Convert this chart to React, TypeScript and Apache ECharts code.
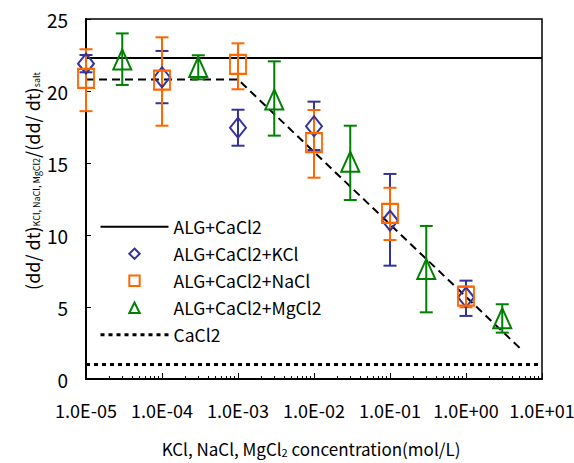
import React, { useEffect, useRef } from 'react';
import * as echarts from 'echarts';

const FONT = '"Noto Sans CJK JP", "Noto Sans", sans-serif';

// Axis ticks
const decadeTicks = [1e-5, 1e-4, 1e-3, 1e-2, 1e-1, 1e0, 1e1];
const xTickLabels = ['1.0E-05', '1.0E-04', '1.0E-03', '1.0E-02', '1.0E-01', '1.0E+00', '1.0E+01'];
const minorMultipliers = [2, 3, 4, 5, 6, 7, 8, 9];

// ALG+CaCl2 + KCl
const kclX = [1e-5, 1e-4, 1e-3, 1e-2, 1e-1, 1];
const kclY = [21.9, 20.95, 17.45, 17.55, 11.0, 5.67];
const kclLow = [21.3, 19.15, 16.2, 15.9, 7.87, 4.38];
const kclHigh = [22.5, 22.78, 18.7, 19.26, 14.24, 6.83];

// ALG+CaCl2 + NaCl
const naclX = [1e-5, 1e-4, 1e-3, 1e-2, 1e-1, 1];
const naclY = [20.88, 20.76, 21.85, 16.41, 11.5, 5.76];
const naclLow = [18.6, 17.59, 20.12, 13.98, 9.65, 4.98];
const naclHigh = [22.9, 23.73, 23.31, 18.68, 13.28, 6.41];

// ALG+CaCl2 + MgCl2
const mgX = [3e-5, 3e-4, 3e-3, 3e-2, 3e-1, 3];
const mgY = [22.19, 21.67, 19.41, 15.09, 7.64, 4.22];
const mgLow = [20.42, 20.81, 16.9, 12.43, 4.63, 3.22];
const mgHigh = [24.0, 22.48, 22.06, 17.59, 10.63, 5.19];

// Reference lines
const algCaCl2Level = 22.3;
const caCl2Level = 1.0;
const fitX = [1e-5, 1e-3, 5.1];
const fitY = [20.8, 20.8, 2.15];

const BLUE = '#333399';
const ORANGE = '#FF6600';
const GREEN = '#008000';

function errorSeries(name: string, xs: number[], lo: number[], hi: number[], color: string) {
  return {
    type: 'custom',
    name,
    data: xs.map((x, i) => [x, lo[i], hi[i]]),
    encode: { x: 0, y: [1, 2] },
    z: 2,
    silent: true,
    renderItem: (params: any, api: any) => {
      const x = api.value(0);
      const a = api.coord([x, api.value(1)]);
      const b = api.coord([x, api.value(2)]);
      const hw = 6.5;
      const style = { stroke: color, lineWidth: 2, fill: 'none' };
      return {
        type: 'group',
        children: [
          { type: 'line', shape: { x1: a[0], y1: a[1], x2: b[0], y2: b[1] }, style },
          { type: 'line', shape: { x1: a[0] - hw, y1: a[1], x2: a[0] + hw, y2: a[1] }, style },
          { type: 'line', shape: { x1: b[0] - hw, y1: b[1], x2: b[0] + hw, y2: b[1] }, style },
        ],
      };
    },
  };
}

function markerSeries(name: string, xs: number[], ys: number[], symbol: string, size: number[], color: string) {
  return {
    type: 'line',
    name,
    data: xs.map((x, i) => [x, ys[i]]),
    symbol,
    symbolSize: size,
    showSymbol: true,
    lineStyle: { width: 0, opacity: 0 },
    itemStyle: { color: 'rgba(0,0,0,0)', borderColor: color, borderWidth: 2 },
    z: 3,
  };
}

export default function App() {
  const ref = useRef<HTMLDivElement>(null);

  useEffect(() => {
    document.body.style.margin = '0';
    if (!ref.current) return;
    const chart = echarts.init(ref.current, null, { renderer: 'svg' });

    const minorTicks: number[] = [];
    for (let i = 0; i < decadeTicks.length - 1; i++) {
      for (const m of minorMultipliers) minorTicks.push(m * decadeTicks[i]);
    }

    const option: any = {
      animation: false,
      backgroundColor: '#fff',
      textStyle: { fontFamily: FONT },
      grid: {
        left: 86,
        right: 32,
        top: 19,
        bottom: 84,
        show: true,
        borderColor: '#000',
        borderWidth: 1.5,
        backgroundColor: 'transparent',
        containLabel: false,
        outerBoundsMode: 'none',
      },
      xAxis: [
        {
          type: 'log',
          logBase: 10,
          min: 1e-5,
          max: 10,
          position: 'bottom',
          axisLine: { lineStyle: { color: '#000', width: 2 } },
          axisTick: {
            inside: true,
            length: 6,
            customValues: decadeTicks,
            lineStyle: { color: '#000', width: 1 },
          },
          axisLabel: {
            customValues: decadeTicks,
            margin: 22,
            fontSize: 18,
            color: '#000',
            fontFamily: FONT,
            formatter: (v: number) => {
              const idx = Math.round(Math.log10(v)) + 5;
              return xTickLabels[idx] ?? '';
            },
          },
          splitLine: { show: false },
          minorTick: { show: false },
        },
        {
          type: 'log',
          logBase: 10,
          min: 1e-5,
          max: 10,
          position: 'bottom',
          axisLine: { show: false },
          axisTick: {
            inside: true,
            length: 3,
            customValues: minorTicks,
            lineStyle: { color: '#000', width: 1 },
          },
          axisLabel: { show: false },
          splitLine: { show: false },
        },
      ],
      yAxis: {
        type: 'value',
        min: 0,
        max: 25,
        interval: 5,
        axisLine: { show: true, lineStyle: { color: '#000', width: 2 } },
        axisTick: { show: true, inside: true, length: 5, lineStyle: { color: '#000', width: 1 } },
        axisLabel: { margin: 18, fontSize: 19, color: '#000', fontFamily: FONT },
        splitLine: { show: false },
      },
      legend: {
        orient: 'vertical',
        left: 99,
        top: 218,
        padding: 0,
        itemWidth: 68,
        itemHeight: 13,
        itemGap: 9.5,
        selectedMode: false,
        textStyle: { fontSize: 17.5, color: '#000', fontFamily: FONT },
        data: [
          { name: 'ALG+CaCl2', itemStyle: { opacity: 0 } },
          {
            name: 'ALG+CaCl2+KCl',
            itemStyle: { color: 'rgba(0,0,0,0)', borderColor: BLUE, borderWidth: 2 },
            lineStyle: { width: 0, opacity: 0 },
          },
          {
            name: 'ALG+CaCl2+NaCl',
            itemStyle: { color: 'rgba(0,0,0,0)', borderColor: ORANGE, borderWidth: 2 },
            lineStyle: { width: 0, opacity: 0 },
          },
          {
            name: 'ALG+CaCl2+MgCl2',
            itemStyle: { color: 'rgba(0,0,0,0)', borderColor: GREEN, borderWidth: 2 },
            lineStyle: { width: 0, opacity: 0 },
          },
          { name: 'CaCl2', itemStyle: { opacity: 0 }, lineStyle: { width: 3 } },
        ],
      },
      graphic: [
        {
          type: 'text',
          x: 29,
          y: 181,
          rotation: Math.PI / 2,
          style: {
            text: '{m|(dd/ dt)}{s|KCl, NaCl, MgCl2}{m|/(dd/ dt)}{s|salt}',
            align: 'center',
            verticalAlign: 'middle',
            fill: '#000',
            rich: {
              m: { fontSize: 18, lineHeight: 24, fontFamily: FONT, fill: '#000', verticalAlign: 'bottom' },
              s: { fontSize: 9, lineHeight: 9, fontFamily: FONT, fill: '#000', verticalAlign: 'bottom' },
            },
          },
        },
        {
          type: 'text',
          x: 311,
          y: 446,
          style: {
            text: '{m|KCl, NaCl, MgCl}{s|2}{m| concentration(mol/L)}',
            align: 'center',
            verticalAlign: 'middle',
            fill: '#000',
            rich: {
              m: { fontSize: 17, lineHeight: 22, fontFamily: FONT, fill: '#000', verticalAlign: 'bottom' },
              s: { fontSize: 11, lineHeight: 13, fontFamily: FONT, fill: '#000', verticalAlign: 'bottom' },
            },
          },
        },
      ],
      series: [
        {
          type: 'line',
          name: 'ALG+CaCl2',
          data: [[1e-5, algCaCl2Level], [10, algCaCl2Level]],
          symbol: 'none',
          lineStyle: { color: '#000', width: 2, type: 'solid' },
          itemStyle: { color: '#000' },
          z: 1,
        },
        {
          type: 'line',
          name: 'CaCl2',
          data: [[1e-5, caCl2Level], [10, caCl2Level]],
          symbol: 'none',
          lineStyle: { color: '#000', width: 3, type: [4, 4] },
          itemStyle: { color: '#000' },
          z: 1,
        },
        {
          type: 'line',
          name: 'fit',
          data: fitX.map((x, i) => [x, fitY[i]]),
          symbol: 'none',
          lineStyle: { color: '#000', width: 2, type: [8, 5] },
          itemStyle: { color: '#000' },
          z: 1,
        },
        errorSeries('errKCl', kclX, kclLow, kclHigh, BLUE),
        errorSeries('errNaCl', naclX, naclLow, naclHigh, ORANGE),
        errorSeries('errMgCl2', mgX, mgLow, mgHigh, GREEN),
        markerSeries('ALG+CaCl2+KCl', kclX, kclY, 'diamond', [16, 20], BLUE),
        markerSeries('ALG+CaCl2+NaCl', naclX, naclY, 'rect', [16, 19], ORANGE),
        markerSeries('ALG+CaCl2+MgCl2', mgX, mgY, 'triangle', [18, 20], GREEN),
      ],
    };

    chart.setOption(option);
    return () => chart.dispose();
  }, []);

  return <div ref={ref} style={{ width: 574, height: 463 }} />;
}
